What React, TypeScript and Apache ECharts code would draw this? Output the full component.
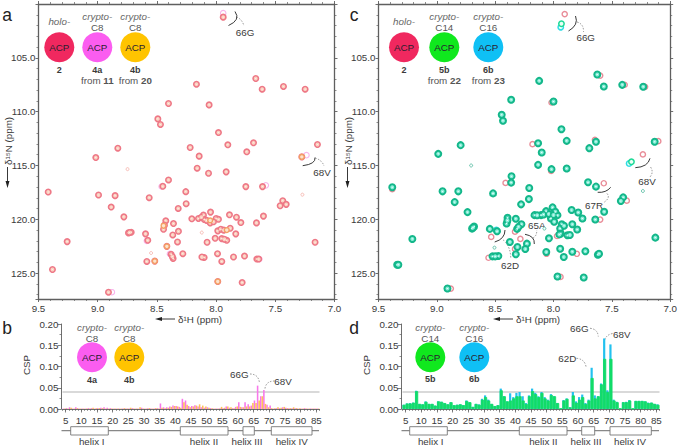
import React, { useEffect, useRef } from "react";
import * as echarts from "echarts";

type P = [number, number];

const peaksA: P[] = [[7.94,101.22],[7.665,106.92],[8.166,107.45],[7.611,107.91],[7.431,107.66],[7.248,107.91],[8.402,109.24],[8.059,109.37],[8.492,110.67],[8.47,111.19],[7.98,111.94],[7.901,113.08],[7.684,112.89],[7.741,113.73],[8.219,113.33],[8.143,114.13],[8.83,113.39],[9.016,114.26],[7.144,113.05],[7.276,114.2],
[8.16,115.25],[8.064,115.72],[7.915,115.59],[9.418,117.46],[8.402,116.34],[8.45,116.93],[8.256,117.43],[7.749,116.96],[7.608,116.96],[8.993,117.74],[8.853,117.8],[8.565,117.99],[8.253,118.55],[8.32,118.99],[8.886,118.86],[8.779,119.77],[7.437,118.27],[7.408,118.61],[7.459,118.74],[7.6,119.7],[7.659,120.33],[7.887,119.58],[7.828,119.8],[7.791,120.3],
[8.047,119.33],[8.107,119.61],[8.149,119.92],[8.205,119.95],[8.10,120.02],[8.05,120.33],[8.0,119.92],[8.022,120.23],[8.425,120.14],[8.436,120.54],[8.444,120.92],[8.36,120.39],[8.318,121.11],[8.366,121.45],[8.74,121.26],[8.717,121.2],[8.596,121.35],[8.577,121.95],[8.326,122.1],[8.416,122.51],[8.076,122.13],[8.008,121.76],[7.986,121.07],[7.96,120.92],[7.952,121.79],[7.91,121.95],[7.881,120.83],[7.834,121.35],[9.258,122.07],[7.164,122.13],
[8.38,123.25],[8.363,123.63],[8.281,123.19],[8.585,123.91],[8.518,123.88],[8.101,123.54],[7.988,123.19],[7.952,123.91],[7.853,123.5],[7.76,123.41],[7.656,123.69],[9.382,124.66],[7.986,125.78],[7.78,125.87],[8.909,126.77],
[8.125,119.8],[8.08,120.1],[7.98,120.0],[7.935,121.0],[7.93,121.85],[8.12,123.5],[8.37,123.45],[8.73,121.22],[7.64,123.69]];
const smallPeaksA: P[] = [[8.748,115.34],[7.271,117.71],[8.549,123.13],[8.121,121.23]];
const pinkOnlyA: P[] = [[7.94,100.85],[7.237,114.04],[7.58,116.84],[8.46,116.95],[8.585,122.0],[8.39,123.2],[8.88,126.77],[7.635,123.69]];
const orangeOnlyA: P[] = [[7.276,114.2],[8.518,123.88],[7.986,125.78],[8.416,122.51],[8.444,120.6],[8.05,120.1],[7.91,121.0]];

const peaksC: P[] = [[7.625,106.55],[8.123,107.14],[7.569,107.66],[7.411,107.51],[7.231,107.69],[8.363,108.9],[8.0,109.06],[8.444,110.29],[8.433,110.85],[7.932,111.63],[7.887,112.71],[7.636,112.8],[7.693,113.39],[8.132,112.93],[8.101,113.79],[8.796,113.11],[8.988,113.92],[7.133,112.8],
[8.132,114.94],[8.017,115.34],[7.887,115.28],[9.382,117.02],[8.36,116.0],[8.363,116.59],[8.518,117.59],[8.208,117.09],[7.704,116.56],[7.636,116.96],[8.951,117.4],[8.816,117.4],[8.211,118.12],[8.278,118.61],[8.847,118.4],[8.737,119.33],[7.403,117.96],[7.423,118.3],[7.566,119.3],[7.642,120.02],[7.845,119.14],[7.788,119.36],[7.752,119.92],
[8.008,118.89],[8.064,119.24],[8.107,119.61],[8.163,119.61],[7.966,119.61],[8.022,119.92],[7.994,120.23],[8.394,119.86],[8.402,120.39],[8.323,119.95],[8.275,120.45],[8.312,120.89],[8.681,120.67],[8.698,120.86],[8.546,120.89],[8.484,121.11],[8.374,122.1],[8.309,122.57],[8.323,123.25],[8.228,122.26],[8.242,122.76],[8.039,121.76],[7.929,120.45],[7.943,120.86],[7.839,120.45],[7.797,120.95],[7.881,121.48],[7.938,121.32],[9.21,121.82],[7.127,121.7],
[8.523,123.44],[8.473,123.41],[8.062,123.04],[7.943,122.73],[7.912,123.5],[7.839,123.01],[7.727,122.97],[7.62,123.29],[9.34,124.22],[7.966,125.31],[7.741,125.4],[8.909,126.43],
[8.14,119.62],[8.085,119.55],[8.04,119.5],[7.985,119.3],[8.0,119.6],[8.395,120.1],[8.3,120.7],[7.91,120.6],[7.86,121.45],[8.5,123.44],[7.61,123.2],[7.95,121.4],[8.69,120.77],[9.33,124.22]];
const greenOnlyC: P[] = [[7.932,101.84],[7.332,114.66]];
const blueOnlyC: P[] = [[7.938,102.15],[7.352,114.81],[8.49,121.0]];
const holoOnlyC: P[] = [[7.904,100.94],[8.18,113.02],[7.645,112.62],[7.102,112.74],[7.234,113.97],[8.017,109.15],[7.569,116.65],[8.411,116.62],[7.372,118.27],[8.534,121.63],[8.284,121.82],[8.557,123.57],[7.6,120.02],[7.39,107.5],[7.215,107.69],[7.6,106.65],[9.382,117.2],[8.02,115.5],[8.88,126.43],[7.94,125.35],[7.8,123.2],[8.33,122.75],[8.33,121.15],[8.06,123.2],[7.97,121.55]];
const smallPeaksC: P[] = [[8.706,115.0],[7.234,117.37],[8.506,122.63],[8.078,120.86]];

const categories: number[] = Array.from({ length: 82 }, (_, i) => i + 4);
const edges: number[] = Array.from({ length: 83 }, (_, i) => i + 4);

const cspPink = [.001,.002,.004,.001,.004,.001,.001,.001,.002,.002,.001,.002,.003,.004,.003,.002,.001,.001,.001,.001,.001,.001,.002,.001,.001,.003,.001,.002,.001,.001,.002,.013,.004,.004,.006,.008,.007,.005,.024,.02,.007,.007,.009,.006,.004,.003,.004,.002,.001,.001,.002,.002,.006,.003,.002,.005,.016,.004,.016,.011,.008,.02,.055,.03,.045,.01,.008,.001,.002,.002,.004,.003,.002,.002,.002,.001,.001,.002,.001,.001,.001,.001];
const cspOrange = [.001,.001,.003,.001,.002,.001,.001,.001,.001,.003,.002,.002,.002,.001,.001,.001,.001,.001,.001,.002,.001,.003,.001,.001,.004,.001,.001,.002,.001,.002,.001,.003,.002,.003,.005,.007,.006,.003,.016,.01,.004,.006,.008,.011,.008,.006,.003,.002,.001,.001,.005,.003,.006,.004,.002,.006,.005,.004,.006,.006,.014,.014,.02,.03,.012,.004,.002,.002,.004,.003,.005,.002,.002,.004,.002,.002,.001,.001,.001,.001,.001,.001];
const cspGreen = [.010,.013,.013,.015,.042,.012,.011,.017,.012,.012,.008,.018,.017,.014,.011,.016,.009,.010,.011,.009,.019,.016,.005,.012,.010,.022,.028,.020,.012,.007,.009,.044,.030,.018,.020,.025,.030,.030,.020,.012,.030,.042,.035,.028,.038,.025,.020,.033,.030,.014,.001,.020,.024,.004,.032,.015,.022,.028,.012,.020,.073,.025,.030,.058,.118,.040,.118,.020,.016,.001,.016,.016,.020,.001,.019,.019,.019,.018,.014,.015,.012,.010];
const cspBlue = [.010,.013,.014,.015,.043,.012,.011,.018,.012,.012,.008,.018,.017,.014,.011,.016,.009,.010,.011,.009,.020,.016,.005,.012,.011,.024,.032,.022,.012,.007,.009,.048,.030,.018,.037,.028,.038,.040,.030,.014,.032,.048,.038,.030,.040,.028,.022,.035,.030,.014,.001,.021,.025,.004,.040,.018,.028,.034,.014,.022,.097,.032,.030,.060,.166,.044,.152,.022,.017,.001,.016,.017,.021,.001,.019,.019,.019,.018,.015,.015,.012,.011];

const yTicksBar = ["0.00", "0.05", "0.10", "0.15", "0.20"];
const helices: [string, number, number, number][] = [["helix I", 70.7, 108.3, 91.7], ["helix II", 180.3, 228, 204], ["helix III", 243, 254.3, 247], ["helix IV", 271.3, 312, 291.7]];
const helicesD: [string, number, number, number][] = [["helix I", 69.7, 107.3, 90.7], ["helix II", 179.3, 227, 203.3], ["helix III", 241.7, 254.7, 246], ["helix IV", 270, 311.3, 290]];

const FONT = '"Liberation Sans", Arial, sans-serif';
const INK = "#3a3a3a";
const AXIS = "#5f5f5f";
const FS = 9.8;
const RED = "#f0285f", MAGENTA = "#fb5df0", YELLOW = "#ffc400", GREEN = "#10e81e", BLUE = "#0fc0f5";

const txt = (x: number, y: number, text: string, o: any = {}) => ({
  type: "text", x, y, rotation: o.rotation || 0, silent: true,
  style: { text, font: `${o.italic ? "italic " : ""}${o.bold ? "bold " : ""}${o.size || FS}px ${FONT}`, fill: o.fill || INK, align: o.align || "center", verticalAlign: "middle", textAlign: o.align || "center", textVerticalAlign: "middle", rich: o.rich },
});
const circ = (cx: number, cy: number, fill: string) => ({ type: "circle", silent: true, shape: { cx, cy, r: 15 }, style: { fill } });
const badge = (x: number, y: number, fill: string) => [circ(x, y, fill), txt(x, y, "ACP", { fill: "#2a2030" })];
const arc = (x1: number, y1: number, cx: number, cy: number, x2: number, y2: number) => ({ type: "bezierCurve", silent: true, shape: { x1, y1, x2, y2, cpx1: cx, cpy1: cy }, style: { stroke: "#222", lineWidth: 0.9, fill: "none" } });
const dash = (x1: number, y1: number, cx: number, cy: number, x2: number, y2: number) => ({ type: "bezierCurve", silent: true, shape: { x1, y1, x2, y2, cpx1: cx, cpy1: cy }, style: { stroke: "#666", lineWidth: 0.7, lineDash: [1.5, 1.5], fill: "none" } });
const hArrow = (x1: number, x2: number, y: number) => [
  { type: "line", silent: true, shape: { x1: x1 + 5, y1: y, x2, y2: y }, style: { stroke: "#222", lineWidth: 0.9 } },
  { type: "polygon", silent: true, shape: { points: [[x1, y], [x1 + 7, y - 2], [x1 + 7, y + 2]] }, style: { fill: "#222" } },
];
const vArrow = (x: number, y1: number, y2: number) => [
  { type: "line", silent: true, shape: { x1: x, y1, x2: x, y2: y2 - 5 }, style: { stroke: "#222", lineWidth: 0.9 } },
  { type: "polygon", silent: true, shape: { points: [[x, y2], [x - 2, y2 - 7], [x + 2, y2 - 7]] }, style: { fill: "#222" } },
];
const helixRow = (dx: number, list: [string, number, number, number][]) => [
  { type: "line", silent: true, shape: { x1: dx + 61.5, y1: 430.7, x2: dx + 319, y2: 430.7 }, style: { stroke: "#888", lineWidth: 1.2 } },
  ...list.map((h) => ({ type: "rect", silent: true, shape: { x: dx + h[1], y: 426.7, width: h[2] - h[1], height: 8.3 }, style: { fill: "#fff", stroke: "#777", lineWidth: 0.9 } })),
  ...list.map((h) => txt(dx + h[3], 441.7, h[0])),
];
const rich = { b: { fontWeight: "bold", fontSize: FS, fontFamily: FONT, fill: "#555", color: "#555" } };
const crypto = (x: number, y: number, chain: string) => [txt(x, y, "crypto-", { italic: true, fill: "#666" }), txt(x, y + 11, chain, { fill: "#555" })];

const graphics: any[] = [
  txt(7, 15, "a", { size: 17.5, fill: "#222" }), txt(7, 328, "b", { size: 17.5, fill: "#222" }), txt(354, 15, "c", { size: 17.5, fill: "#222" }), txt(354, 328, "d", { size: 17.5, fill: "#222" }),
  txt(59.3, 21, "holo-", { italic: true, fill: "#666" }),
  ...crypto(97.3, 16, "C8"), ...crypto(135.3, 16, "C8"),
  ...badge(59.3, 47.3, RED), ...badge(97.3, 47.3, MAGENTA), ...badge(135.3, 47.3, YELLOW),
  txt(59.3, 69.5, "2", { bold: true, size: 9 }), txt(97.3, 69.5, "4a", { bold: true, size: 9 }), txt(135.3, 69.5, "4b", { bold: true, size: 9 }),
  txt(97.3, 80, "from {b|11}", { rich, fill: "#555" }), txt(135.3, 80, "from {b|20}", { rich, fill: "#555" }),
  txt(404, 21, "holo-", { italic: true, fill: "#666" }),
  ...crypto(444.3, 16, "C14"), ...crypto(488.3, 16, "C16"),
  ...badge(404, 47.3, RED), ...badge(444.3, 47.3, GREEN), ...badge(488.3, 47.3, BLUE),
  txt(404, 69.5, "2", { bold: true, size: 9 }), txt(444.3, 69.5, "5b", { bold: true, size: 9 }), txt(488.3, 69.5, "6b", { bold: true, size: 9 }),
  txt(444.3, 80, "from {b|22}", { rich, fill: "#555" }), txt(488.3, 80, "from {b|23}", { rich, fill: "#555" }),
  ...crypto(92, 327, "C8"), ...crypto(129.3, 327, "C8"),
  ...badge(92, 357.3, MAGENTA), ...badge(129.3, 357.3, YELLOW),
  txt(92, 380.3, "4a", { bold: true, size: 9 }), txt(129.3, 380.3, "4b", { bold: true, size: 9 }),
  ...crypto(430.3, 327, "C14"), ...crypto(474.3, 327, "C16"),
  ...badge(430.3, 357.3, GREEN), ...badge(474.3, 357.3, BLUE),
  txt(430.3, 379, "5b", { bold: true, size: 9 }), txt(474.3, 379, "6b", { bold: true, size: 9 }),
  txt(8, 141, "δ¹⁵N (ppm)", { rotation: Math.PI / 2 }), ...vArrow(7.5, 167, 188),
  txt(348, 141, "δ¹⁵N (ppm)", { rotation: Math.PI / 2 }), ...vArrow(347.5, 167, 188),
  ...hArrow(155, 175, 319), txt(200, 319.5, "δ¹H (ppm)"),
  ...hArrow(493, 513, 319), txt(538, 319.5, "δ¹H (ppm)"),
  txt(26.7, 365, "CSP", { rotation: Math.PI / 2 }), txt(366.7, 365, "CSP", { rotation: Math.PI / 2 }),
  arc(235, 11.5, 241, 20, 228.5, 25.5), dash(236.5, 17, 242, 19, 244, 26), txt(245, 32, "66G"),
  arc(302.7, 165.7, 316, 164, 315, 157.5), dash(315, 158, 322, 160, 324, 166), txt(322, 172, "68V"),
  arc(575.5, 16, 579, 25, 568.5, 31), dash(577, 22, 584, 24, 583.5, 32), txt(585.7, 37.7, "66G"),
  arc(635.3, 167.7, 648, 167, 650, 158.3), dash(650.5, 167, 654, 172, 650, 177), txt(647, 181.7, "68V"),
  arc(597.7, 192.3, 606, 193, 610.7, 187.3), dash(607, 193.5, 611, 198, 603, 203), txt(594, 205, "67R"),
  arc(525, 234.3, 535, 236, 534.3, 244), dash(533, 238, 537, 236, 536.7, 230), txt(536.7, 225, "65A"),
  arc(494.7, 242, 505, 239, 505, 230), dash(503.3, 240, 511, 247, 510.7, 259), txt(510, 265, "62D"),
  dash(250, 374, 258.5, 374, 259.5, 383), txt(239.3, 374, "66G"),
  dash(274.7, 381, 266, 381, 265, 388.5), txt(283, 381, "68V"),
  dash(590, 328.3, 597.7, 329, 598.3, 336.5), txt(579.3, 328.3, "66G"),
  dash(612.5, 333.5, 605, 335, 604, 342.7), txt(621.7, 334, "68V"),
  dash(576.5, 358.3, 584.5, 359, 586, 366.5), txt(567.3, 358.3, "62D"),
  ...helixRow(0, helices),
  ...helixRow(340, helicesD),
];

const peakY = (grid: number, position: string, labels: boolean) => ({
  type: "value", gridIndex: grid, position, inverse: true, min: 100, max: 127.4, interval: 5,
  axisLine: { show: true, onZero: false, lineStyle: { color: AXIS, width: 1.3 } },
  axisTick: { show: true, length: 3, lineStyle: { color: AXIS, width: 0.9 } },
  minorTick: { show: true, splitNumber: 5, length: 2, lineStyle: { color: AXIS, width: 0.7 } },
  splitLine: { show: false },
  axisLabel: { show: labels, margin: 3, color: INK, fontFamily: FONT, fontSize: FS, showMaxLabel: false, formatter: (v: number) => (v === 100 || v % 5 !== 0 ? "" : v.toFixed(1)) },
});
const peakX = (grid: number, position: string, labels: boolean) => ({
  type: "value", gridIndex: grid, position, inverse: true, min: 7, max: 9.5, interval: 0.5,
  axisLine: { show: true, onZero: false, lineStyle: { color: AXIS, width: 1.3 } },
  axisTick: { show: true, length: 3, lineStyle: { color: AXIS, width: 0.9 } },
  minorTick: { show: true, splitNumber: 5, length: 2, lineStyle: { color: AXIS, width: 0.7 } },
  splitLine: { show: false },
  axisLabel: { show: labels, margin: 4, color: INK, fontFamily: FONT, fontSize: FS, formatter: (v: number) => v.toFixed(1) },
});
const barBand = (grid: number) => ({ type: "category", gridIndex: grid, data: categories, boundaryGap: true, axisLine: { show: false }, axisTick: { show: false }, axisLabel: { show: false } });
const barEdge = (grid: number) => ({
  type: "category", gridIndex: grid, position: "bottom", data: edges, boundaryGap: false,
  axisLine: { show: true, onZero: false, lineStyle: { color: AXIS, width: 0.9 } },
  axisTick: { show: true, length: 3.5, interval: (_: number, v: string) => Number(v) % 5 === 0, lineStyle: { color: AXIS, width: 0.8 } },
  axisLabel: { show: true, margin: 6, color: INK, fontFamily: FONT, fontSize: FS, interval: (_: number, v: string) => Number(v) % 5 === 0 && Number(v) <= 85 },
});
const barMinor = (grid: number) => ({
  type: "category", gridIndex: grid, position: "bottom", data: edges, boundaryGap: false,
  axisLine: { show: false }, axisLabel: { show: false },
  axisTick: { show: true, length: 2, interval: 0, lineStyle: { color: AXIS, width: 0.6 } },
});
const barY = (grid: number) => ({
  type: "value", gridIndex: grid, position: "left", offset: 1, min: 0, max: 0.2, interval: 0.05,
  axisLine: { show: true, onZero: false, lineStyle: { color: AXIS, width: 0.9 } },
  axisTick: { show: true, length: 4, lineStyle: { color: AXIS, width: 0.8 } },
  minorTick: { show: true, splitNumber: 2, length: 2, lineStyle: { color: AXIS, width: 0.7 } },
  splitLine: { show: false },
  axisLabel: { show: true, margin: 3, color: INK, fontFamily: FONT, fontSize: FS, formatter: (v: number) => yTicksBar[Math.round(v / 0.05)] },
});

const ring = (data: P[], x: number, y: number, size: number, border: string, bw: number, fill = "#fff8f4", z = 2) => ({
  type: "scatter", xAxisIndex: x, yAxisIndex: y, data, symbol: "circle", symbolSize: size, silent: true, z,
  itemStyle: { color: fill, borderColor: border, borderWidth: bw, opacity: 1 },
});
const threshold = { silent: true, symbol: "none", z: 1, label: { show: false }, lineStyle: { color: "#d9d9d9", width: 2, type: "solid" }, data: [{ yAxis: 0.04 }] };

export default function App() {
  const ref = useRef<HTMLDivElement>(null);
  useEffect(() => {
    const chart = echarts.init(ref.current!, undefined, { renderer: "svg" });
    chart.setOption({
      animation: false,
      backgroundColor: "#fff",
      grid: [
        { left: 38.5, width: 296, top: 4, height: 295 },
        { left: 378.5, width: 296, top: 4, height: 295 },
        { left: 62.5, width: 257, top: 324, height: 85 },
        { left: 402.5, width: 257, top: 324, height: 85 },
      ],
      xAxis: [peakX(0, "bottom", true), peakX(0, "top", false), peakX(1, "bottom", true), peakX(1, "top", false), barBand(2), barEdge(2), barMinor(2), barBand(3), barEdge(3), barMinor(3)],
      yAxis: [peakY(0, "left", true), peakY(0, "right", false), peakY(1, "left", true), peakY(1, "right", false), barY(2), barY(3)],
      series: [
        ring(pinkOnlyA, 0, 0, 5.5, "#f8b4ec", 1.1, "#fff", 2),
        ring(peaksA, 0, 0, 5.4, "#ee7886", 1.6, "#fbd6c8", 3),
        ring(smallPeaksA, 0, 0, 3, "#f4aca4", 0.8, "#fff", 3),
        ring(peaksA, 0, 0, 1.8, "#f7b79a", 0.4, "#fff6f0", 4),
        ring(orangeOnlyA, 0, 0, 4.8, "#f3a064", 1.4, "#fde3cf", 5),
        ring(holoOnlyC, 2, 2, 5.2, "#e98c98", 1.4, "#fff", 2),
        ring(blueOnlyC, 2, 2, 5.4, "#2fdce4", 1.5, "#eafffb", 3),
        ring(greenOnlyC, 2, 2, 5.4, "#1bd995", 1.5, "#eafff6", 3),
        ring(peaksC, 2, 2, 6, "#13b78a", 2, "#8ff0d8", 4),
        ring(peaksC, 2, 2, 2, "#38dcc2", 0.4, "#f6fffc", 5),
        ring(smallPeaksC, 2, 2, 3, "#45b598", 0.8, "#fff", 4),
        { type: "bar", xAxisIndex: 4, yAxisIndex: 4, data: cspPink, barWidth: "50%", barGap: "0%", itemStyle: { color: "#f878ea" }, silent: true, markLine: threshold, z: 3 },
        { type: "bar", xAxisIndex: 4, yAxisIndex: 4, data: cspOrange, barWidth: "50%", itemStyle: { color: "#fdc05a" }, silent: true, z: 3 },
        { type: "bar", xAxisIndex: 7, yAxisIndex: 5, data: cspBlue, barWidth: "70%", barGap: "-100%", itemStyle: { color: "#22c1ef" }, silent: true, markLine: threshold, z: 3 },
        { type: "bar", xAxisIndex: 7, yAxisIndex: 5, data: cspGreen, barWidth: "100%", barGap: "-100%", itemStyle: { color: "#12dc68", borderColor: "#12dc68", borderWidth: 0.8 }, silent: true, z: 4 },
      ],
      graphic: { elements: graphics },
    });
    return () => chart.dispose();
  }, []);
  return <div ref={ref} style={{ position: "absolute", left: 0, top: 0, width: 680, height: 448 }} />;
}
